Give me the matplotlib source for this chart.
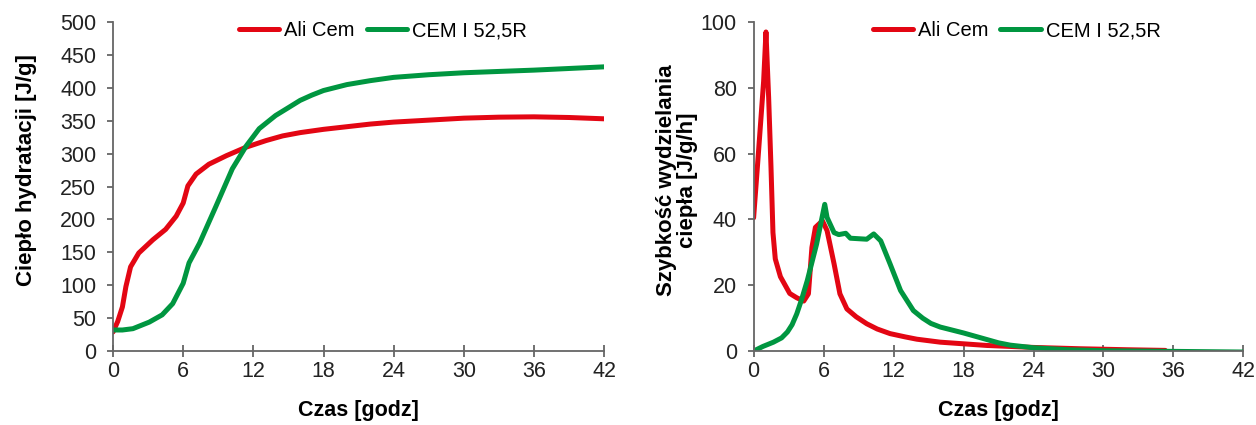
import matplotlib
matplotlib.use("Agg")
import matplotlib.pyplot as plt

plt.rcParams["font.family"] = ["Liberation Sans", "DejaVu Sans"]

RED = "#e30613"
GREEN = "#009640"
SERIES = ["Ali Cem", "CEM I 52,5R"]
X_TICKS = [0, 6, 12, 18, 24, 30, 36, 42]

# cumulative heat of hydration [J/g]
heat_t_ali = [0, 0.4, 0.8, 1.1, 1.5, 2.2, 3.4, 4.5, 5.4, 6.0, 6.4, 7.1, 8.2, 9.7,
              11.4, 13.1, 14.5, 16, 18, 20, 22, 24, 27, 30, 33, 36, 39, 42]
heat_ali = [29, 45, 67, 98, 128, 149, 169, 185, 205, 225, 251, 269, 284, 297,
            310, 320, 327, 332, 337, 341, 345, 348, 351, 354, 355.5, 356, 355, 353]
heat_t_cem = [0, 0.8, 1.7, 3.1, 4.2, 5.1, 6.0, 6.5, 7.4, 8.8, 10.2, 11.4, 12.5,
              13.9, 15, 16, 17, 18, 20, 22, 24, 27, 30, 36, 42]
heat_cem = [32, 32, 34, 44, 55, 72, 103, 134, 164, 220, 277, 312, 338, 358, 370,
            381, 389, 396, 405, 411, 416, 420, 423, 427, 432]

# heat flow [J/g/h]
rate_t_ali = [0, 0.43, 0.86, 1.06, 1.29, 1.49, 1.66, 1.86, 2.3, 3.1, 3.7, 4.3, 4.7,
              5.0, 5.3, 5.9, 6.3, 6.9, 7.4, 8.0, 8.8, 9.7, 10.6, 11.7, 13, 14, 16,
              18, 20, 24, 28, 32, 35.3]
rate_ali = [40.5, 61, 82, 97, 77, 56, 36, 28, 22.6, 17.5, 16.2, 15.2, 17.4, 31.5,
            37.6, 39.6, 36.6, 26.5, 17.4, 12.8, 10.4, 8.3, 6.7, 5.3, 4.3, 3.6, 2.7,
            2.2, 1.7, 1.1, 0.7, 0.4, 0.2]
rate_t_cem = [0, 0.8, 1.7, 2.4, 2.9, 3.3, 3.7, 4.1, 4.6, 5.4, 6.1, 6.3, 6.9, 7.3,
              7.9, 8.3, 9.7, 10.3, 10.9, 11.7, 12.6, 13.7, 14.5, 15.2, 16, 18, 20,
              21, 22, 24, 27, 30, 33, 36, 42]
rate_cem = [0, 1.4, 2.7, 4.0, 5.8, 8.0, 11.3, 15.5, 21.4, 32.5, 44.6, 40.6, 36,
            35.4, 35.8, 34.3, 34, 35.6, 33.5, 26.5, 18.4, 12.3, 10.0, 8.4, 7.3,
            5.5, 3.5, 2.5, 1.8, 1.0, 0.4, 0.1, 0, -0.1, -0.3]


def style_axes(ax, ylim, yticks, ylabel, ylabel_xy, legend_x):
    ax.set_xlim(0, 42)
    ax.set_ylim(*ylim)
    ax.set_xticks(X_TICKS)
    ax.set_yticks(yticks)
    for s in ["top", "right"]:
        ax.spines[s].set_visible(False)
    for s in ["left", "bottom"]:
        ax.spines[s].set_color("#666666")
        ax.spines[s].set_linewidth(1.3)
    ax.tick_params(axis="x", direction="inout", length=8.5, width=1.3, color="#666666",
                   labelsize=15.5, labelcolor="#222222", pad=3)
    ax.tick_params(axis="y", direction="out", length=4, width=1.3, color="#666666",
                   labelsize=15.5, labelcolor="#222222", pad=8)
    ax.set_xlabel("Czas [godz]", fontsize=15.5, fontweight="bold")
    ax.xaxis.set_label_coords(0.5, -0.15)
    ax.set_ylabel(ylabel, fontsize=16, fontweight="bold", linespacing=1.0)
    ax.yaxis.set_label_coords(*ylabel_xy)
    ax.legend(loc="center", bbox_to_anchor=(legend_x, 0.973), ncol=2, frameon=False,
              fontsize=14.5, handlelength=2.0, handletextpad=0.25, columnspacing=0.6,
              borderpad=0)


fig = plt.figure(figsize=(12.56, 4.25), dpi=100)
ax1 = fig.add_axes([0.090, 0.174, 0.391, 0.774])
ax2 = fig.add_axes([0.600, 0.174, 0.390, 0.774])

ax1.plot(heat_t_ali, heat_ali, color=RED, lw=3.6, label=SERIES[0], solid_capstyle="round")
ax1.plot(heat_t_cem, heat_cem, color=GREEN, lw=3.6, label=SERIES[1], solid_capstyle="round")
style_axes(ax1, (0, 500), range(0, 501, 50), "Ciepło hydratacji [J/g]",
           (-0.155, 0.55), 0.549)

ax2.plot(rate_t_ali, rate_ali, color=RED, lw=3.6, label=SERIES[0], solid_capstyle="round")
ax2.plot(rate_t_cem, rate_cem, color=GREEN, lw=3.6, label=SERIES[1], solid_capstyle="round")
style_axes(ax2, (0, 100), range(0, 101, 20), "Szybkość wydzielania\nciepła [J/g/h]",
           (-0.114, 0.52), 0.537)

fig.savefig("out.png", dpi=100)
